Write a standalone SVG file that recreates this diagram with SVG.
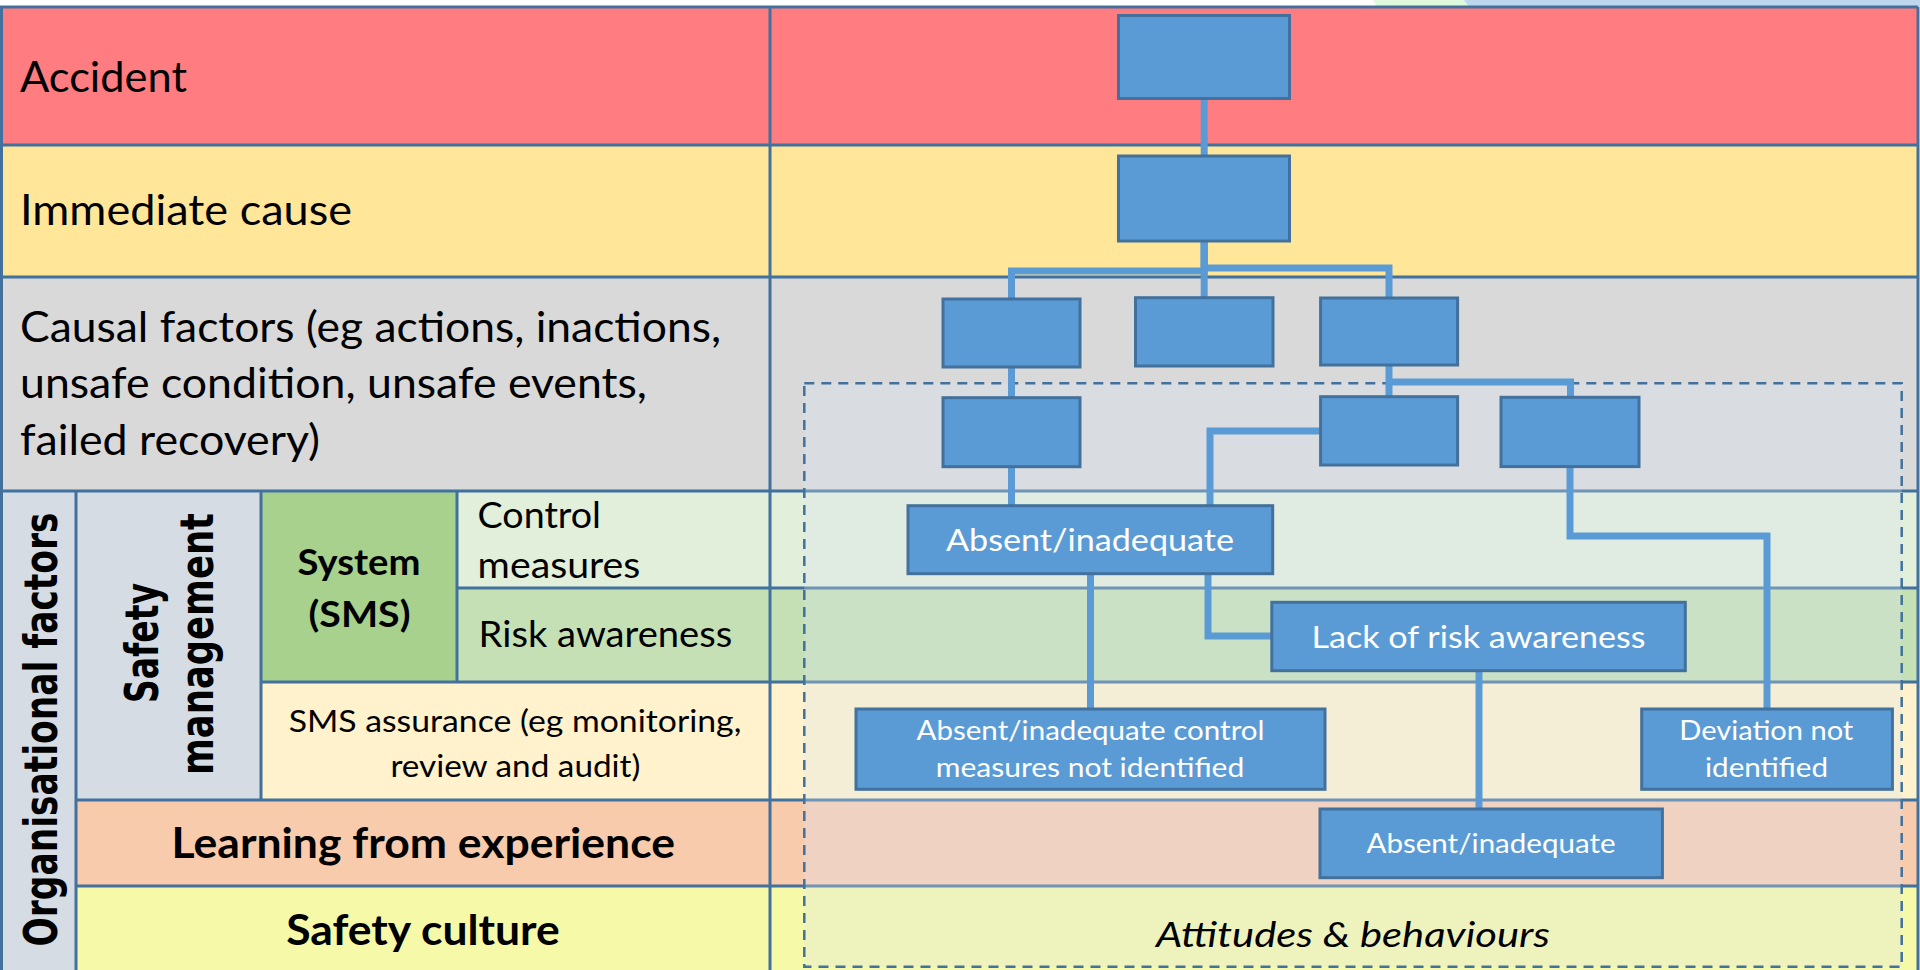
<svg xmlns="http://www.w3.org/2000/svg" width="1920" height="970" viewBox="0 0 1920 970">
<style>
.ln{stroke:#41719C;stroke-width:3;fill:none}
.t{font-family:Lato,"Liberation Sans",sans-serif;fill:#000}
.b{font-weight:bold}
.rot{font-family:"DejaVu Sans",Verdana,sans-serif;font-weight:bold;font-size:47px;fill:#000}
.node{fill:#5B9BD5;stroke:#41719C;stroke-width:3}
.nt{font-family:Lato,"Liberation Sans",sans-serif;fill:#fff;text-anchor:middle}
.cn{stroke:#5B9BD5;stroke-width:7;fill:none;stroke-linejoin:miter}
</style>
<rect x="0" y="0" width="1920" height="970" fill="#fff"/>
<polygon points="1373,0 1464,0 1469,7 1377,7" fill="#DDFADD"/>
<polygon points="1464,0 1920,0 1920,7 1469,7" fill="#BDD7EE"/>
<g id="table">
<rect x="0" y="7" width="1918" height="138" fill="#FF7C80"/>
<rect x="0" y="145" width="1918" height="132" fill="#FFE699"/>
<rect x="0" y="277" width="1918" height="214" fill="#D9D9D9"/>
<rect x="0" y="491" width="76" height="479" fill="#D6DCE4"/>
<rect x="76" y="491" width="185" height="309" fill="#D6DCE4"/>
<rect x="261" y="491" width="196" height="191" fill="#A9D18E"/>
<rect x="457" y="491" width="1461" height="97" fill="#E2EFDA"/>
<rect x="457" y="588" width="1461" height="94" fill="#C5E0B4"/>
<rect x="261" y="682" width="1657" height="118" fill="#FFF2CC"/>
<rect x="76" y="800" width="1842" height="86" fill="#F8CBAD"/>
<rect x="76" y="886" width="1842" height="84" fill="#F6F9A8"/>
<path class="ln" d="M0 7H1918M0 145H1918M0 277H1918M0 491H1918M457 588H1918M261 682H1918M76 800H1918M76 886H1918M1.5 7V970M1918 7V970M770 7V970M76 491V970M261 491V800M457 491V682"/>
</g>
<g id="labels">
<text class="t" x="20" y="91.7" font-size="42" textLength="167" lengthAdjust="spacingAndGlyphs">Accident</text>
<text class="t" x="20" y="225" font-size="42" textLength="332" lengthAdjust="spacingAndGlyphs">Immediate cause</text>
<text class="t" x="20" y="341.7" font-size="42" textLength="701" lengthAdjust="spacingAndGlyphs">Causal factors (eg actions, inactions,</text>
<text class="t" x="20" y="398.3" font-size="42" textLength="627" lengthAdjust="spacingAndGlyphs">unsafe condition, unsafe events,</text>
<text class="t" x="20" y="455" font-size="42" textLength="300" lengthAdjust="spacingAndGlyphs">failed recovery)</text>
<text class="rot" transform="translate(57,729.5) rotate(-90)" text-anchor="middle" textLength="434" lengthAdjust="spacingAndGlyphs">Organisational factors</text>
<text class="rot" transform="translate(158,643) rotate(-90)" text-anchor="middle" textLength="120" lengthAdjust="spacingAndGlyphs">Safety</text>
<text class="rot" transform="translate(213,644) rotate(-90)" text-anchor="middle" textLength="262" lengthAdjust="spacingAndGlyphs">management</text>
<text class="t b" x="359" y="575" font-size="37" text-anchor="middle" textLength="123" lengthAdjust="spacingAndGlyphs">System</text>
<text class="t b" x="359.5" y="626.7" font-size="37" text-anchor="middle" textLength="102" lengthAdjust="spacingAndGlyphs">(SMS)</text>
<text class="t" x="477.6" y="528.3" font-size="37" textLength="123.4" lengthAdjust="spacingAndGlyphs">Control</text>
<text class="t" x="477.6" y="578.3" font-size="37" textLength="162.7" lengthAdjust="spacingAndGlyphs">measures</text>
<text class="t" x="478.6" y="646.7" font-size="37" textLength="253.7" lengthAdjust="spacingAndGlyphs">Risk awareness</text>
<text class="t" x="515" y="731.7" font-size="30" text-anchor="middle" textLength="452.7" lengthAdjust="spacingAndGlyphs">SMS assurance (eg monitoring,</text>
<text class="t" x="515.4" y="776.7" font-size="30" text-anchor="middle" textLength="250" lengthAdjust="spacingAndGlyphs">review and audit)</text>
<text class="t b" x="423.3" y="858.3" font-size="42" text-anchor="middle" textLength="503.4" lengthAdjust="spacingAndGlyphs">Learning from experience</text>
<text class="t b" x="423" y="945" font-size="42" text-anchor="middle" textLength="273.6" lengthAdjust="spacingAndGlyphs">Safety culture</text>
</g>
<rect id="overlay" x="804.3" y="383.3" width="1097.4" height="583.4" fill="#DCE6F2" fill-opacity="0.3" stroke="#41719C" stroke-width="2.5" stroke-dasharray="10 7"/>
<text class="t" x="1353" y="946.7" font-size="35" font-style="italic" text-anchor="middle" textLength="394" lengthAdjust="spacingAndGlyphs">Attitudes &amp; behaviours</text>
<g id="connectors">
<path class="cn" d="M1204.2 98V156"/>
<path class="cn" d="M1204.2 241V271H1011.5V299"/>
<path class="cn" d="M1204.2 241V298"/>
<path class="cn" d="M1204.2 241V268H1389V298"/>
<path class="cn" d="M1011.5 367V398"/>
<path class="cn" d="M1389 365V397"/>
<path class="cn" d="M1389 382H1570.5V397"/>
<path class="cn" d="M1320.6 431H1210V506"/>
<path class="cn" d="M1011.5 467V506"/>
<path class="cn" d="M1570 467V536H1767V709"/>
<path class="cn" d="M1090.5 574V709"/>
<path class="cn" d="M1208 574V636H1272"/>
<path class="cn" d="M1479 671V809"/>
</g>
<g id="nodeA"><rect class="node" x="1118.5" y="15.5" width="171" height="83"/></g>
<g id="nodeB"><rect class="node" x="1118.5" y="156" width="171" height="85"/></g>
<g id="nodeC1"><rect class="node" x="943" y="299" width="137" height="68"/></g>
<g id="nodeC2"><rect class="node" x="1135.5" y="297.7" width="137.5" height="68.3"/></g>
<g id="nodeC3"><rect class="node" x="1320.6" y="298" width="137" height="67"/></g>
<g id="nodeD1"><rect class="node" x="943" y="397.7" width="137" height="69"/></g>
<g id="nodeD2"><rect class="node" x="1320.6" y="396.7" width="137" height="68.3"/></g>
<g id="nodeD3"><rect class="node" x="1501" y="397.3" width="138" height="69.3"/></g>
<g id="nodeE1"><rect class="node" x="908" y="505.7" width="364.7" height="68"/>
<text class="nt" x="1090" y="550.7" font-size="31.5" textLength="288" lengthAdjust="spacingAndGlyphs">Absent/inadequate</text></g>
<g id="nodeE2"><rect class="node" x="1271.8" y="602.3" width="413.5" height="68.4"/>
<text class="nt" x="1478.5" y="647.5" font-size="31.5" textLength="334" lengthAdjust="spacingAndGlyphs">Lack of risk awareness</text></g>
<g id="nodeF1"><rect class="node" x="856" y="709" width="469" height="80.3"/>
<text class="nt" x="1090.5" y="740" font-size="27" textLength="348" lengthAdjust="spacingAndGlyphs">Absent/inadequate control</text>
<text class="nt" x="1090" y="776.7" font-size="27" textLength="308.5" lengthAdjust="spacingAndGlyphs">measures not identified</text></g>
<g id="nodeF2"><rect class="node" x="1641.7" y="709" width="250.7" height="80.3"/>
<text class="nt" x="1766.3" y="740" font-size="27" textLength="174" lengthAdjust="spacingAndGlyphs">Deviation not</text>
<text class="nt" x="1766.5" y="776.7" font-size="27" textLength="123" lengthAdjust="spacingAndGlyphs">identified</text></g>
<g id="nodeG"><rect class="node" x="1320" y="809" width="342.4" height="68.7"/>
<text class="nt" x="1491" y="853.3" font-size="27" textLength="249" lengthAdjust="spacingAndGlyphs">Absent/inadequate</text></g>
</svg>
